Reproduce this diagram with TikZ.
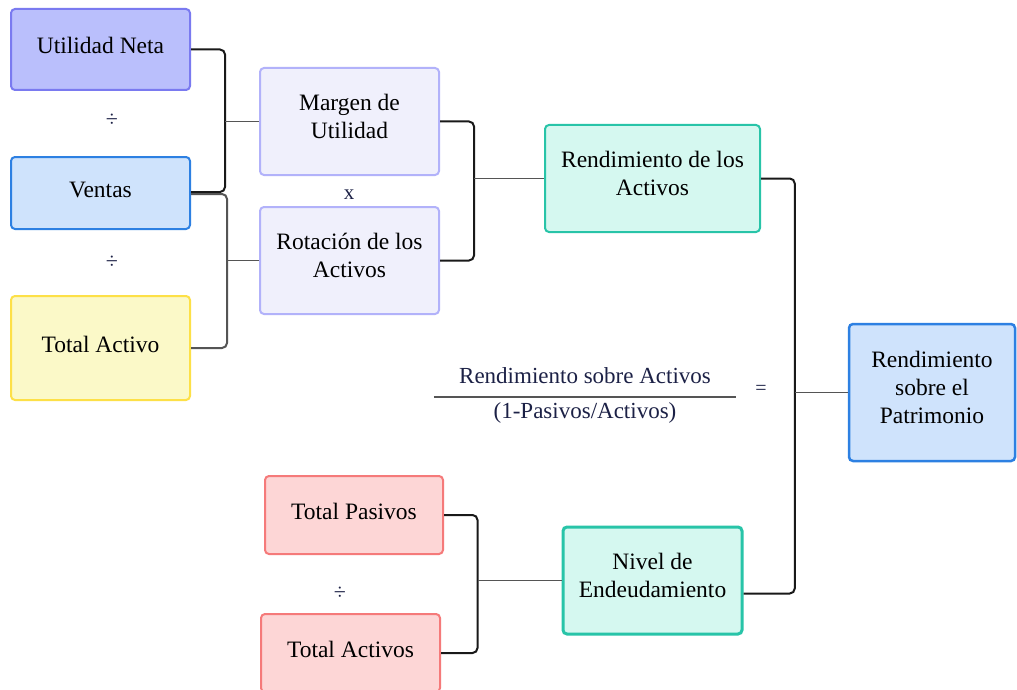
\documentclass[tikz,border=0pt]{standalone}
\usepackage{fontspec}
\setmainfont{Liberation Serif}
\usepackage{xcolor}
\usepackage{tikz}

\definecolor{lilaf}{RGB}{186,191,252}
\definecolor{lilab}{RGB}{122,122,240}
\definecolor{azulf}{RGB}{207,227,252}
\definecolor{azulb}{RGB}{45,128,226}
\definecolor{amaf}{RGB}{251,249,200}
\definecolor{amab}{RGB}{253,224,71}
\definecolor{palef}{RGB}{240,240,252}
\definecolor{paleb}{RGB}{178,178,250}
\definecolor{verdef}{RGB}{213,248,240}
\definecolor{verdeb}{RGB}{40,196,168}
\definecolor{rojof}{RGB}{253,214,214}
\definecolor{rojob}{RGB}{245,122,122}
\definecolor{tinta}{RGB}{28,33,70}
\definecolor{gris}{RGB}{85,85,85}

\tikzset{
    caja/.style={draw, rounded corners=4pt, line width=2pt, align=center,
        font=\fontsize{23.5}{28}\selectfont, text=black,
        execute at begin node={\rule{0pt}{20pt}},
        execute at end node={\rule[-11pt]{0pt}{0pt}}},
    llave/.style={draw=black!90, line width=2pt, rounded corners=5pt},
    enlace/.style={draw=gris, line width=1.5pt},
    simbolo/.style={text=tinta, font=\fontsize{22}{24}\selectfont},
    fraccion/.style={text=tinta, font=\fontsize{23}{28}\selectfont}
}

\begin{document}
\begin{tikzpicture}[x=1pt, y=-1pt]
    \useasboundingbox[fill=white] (0,0) rectangle (1017,690);

    \node[caja, fill=lilaf, draw=lilab, minimum width=179, minimum height=81] (neta) at (100.5,49.5) {Utilidad Neta};
    \node[caja, fill=azulf, draw=azulb, minimum width=179, minimum height=72] (ventas) at (100.5,193) {Ventas};
    \node[caja, fill=amaf, draw=amab, minimum width=179, minimum height=104] (totact) at (100.5,348) {Total Activo};
    \node[caja, fill=palef, draw=paleb, minimum width=179, minimum height=107] (margen) at (349.5,121.5) {Margen de\\Utilidad};
    \node[caja, fill=palef, draw=paleb, minimum width=179, minimum height=107] (rotacion) at (349.5,260.5) {Rotación de los\\Activos};
    \node[caja, fill=verdef, draw=verdeb, minimum width=215, minimum height=107] (rendact) at (652.5,178.5) {Rendimiento de los\\Activos};
    \node[caja, fill=azulf, draw=azulb, line width=2.5pt, minimum width=166, minimum height=137] (rendpat) at (932,392.5) {Rendimiento\\sobre el\\Patrimonio};
    \node[caja, fill=rojof, draw=rojob, minimum width=178, minimum height=78] (totpas) at (354,515) {Total Pasivos};
    \node[caja, fill=rojof, draw=rojob, minimum width=179, minimum height=78] (totactivos) at (350.5,653) {Total Activos};
    \node[caja, fill=verdef, draw=verdeb, line width=3pt, minimum width=179, minimum height=107] (nivel) at (652.5,580.5) {Nivel de\\Endeudamiento};

    \node[simbolo] (div1) at (112,120) {÷};
    \node[simbolo] (div2) at (112,262) {÷};
    \node[simbolo] (div3) at (340,593) {÷};
    \node[simbolo, font=\fontsize{21}{24}\selectfont] (por) at (349,195) {x};
    \node[simbolo, font=\fontsize{20}{24}\selectfont] (igual) at (761,390) {=};

    \node[fraccion, minimum width=302, inner ysep=0pt, minimum height=42] (frnum) at (585,376) {Rendimiento sobre Activos};
    \node[fraccion] (frden) at (585,413) {(1-Pasivos/Activos)};
    \draw[gris, line width=2.5pt] (frnum.south west) -- (frnum.south east);

    \path (margen.west) ++(-34,0) coordinate (j1);
    \path (rotacion.west) ++(-32,0) coordinate (j2);
    \path (rendact.west) ++(-70,0) coordinate (j3);
    \path (rendpat.west) ++(-53,0) coordinate (j4);
    \path (nivel.west) ++(-84,0) coordinate (j5);

    \draw[llave] (neta.east) -| (j1) |- ([yshift=1pt]ventas.east);
    \draw[enlace] (j1) -- (margen.west);
    \draw[llave, draw=gris] ([yshift=-1pt]ventas.east) -| (j2) |- (totact.east);
    \draw[enlace] (j2) -- (rotacion.west);
    \draw[llave] (margen.east) -| (j3) |- (rotacion.east);
    \draw[enlace] (j3) -- (rendact.west);
    \draw[llave] (rendact.east) -| (j4) |- ([yshift=-13pt]nivel.east);
    \draw[enlace] (j4) -- (rendpat.west);
    \draw[llave] (totpas.east) -| (j5) |- (totactivos.east);
    \draw[enlace] (j5) -- (nivel.west);
\end{tikzpicture}
\end{document}
